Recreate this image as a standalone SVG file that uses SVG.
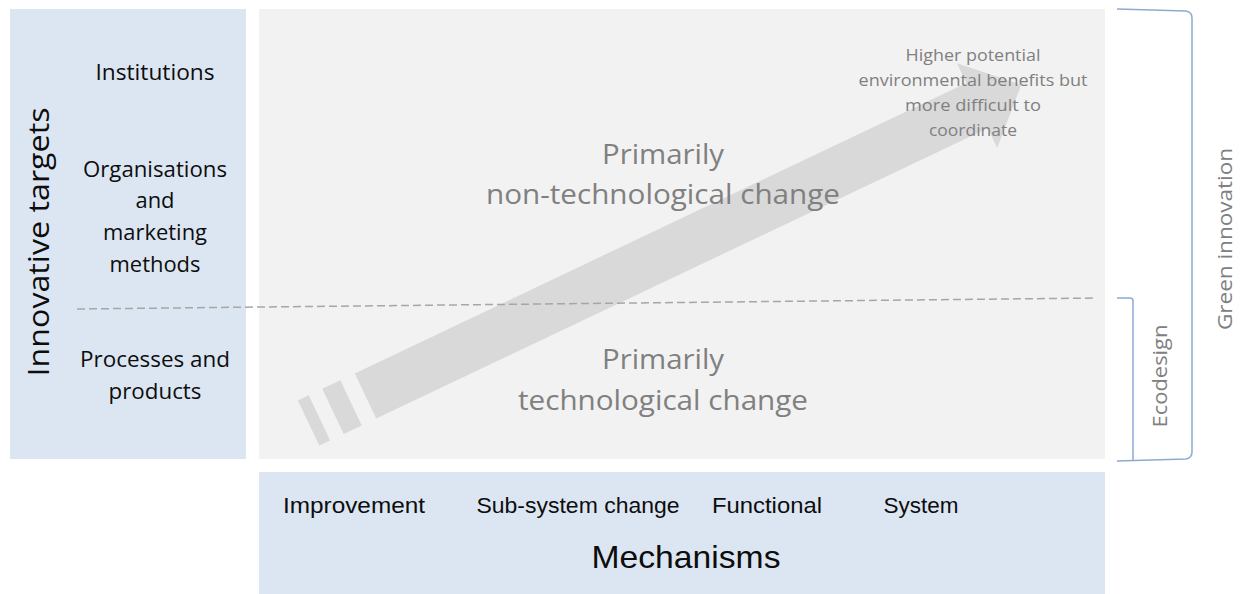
<svg xmlns="http://www.w3.org/2000/svg" width="1241" height="594" viewBox="0 0 1241 594">
  <style>
    .panel-blue { fill: #dce6f2; }
    .panel-grey { fill: #f2f2f2; }
    .dark { font-family: "Open Sans", "Liberation Sans", sans-serif; fill: #0d0d0d; text-anchor: middle; }
    .soft { font-family: "Open Sans", "Liberation Sans", sans-serif; fill: #808080; text-anchor: middle; }
    .narrow { font-family: "Liberation Sans", "Open Sans", sans-serif; fill: #0d0d0d; text-anchor: middle; }
    .brace { fill: none; stroke: #8eaad2; stroke-width: 1.5; }
    .arrow { fill: #d9d9d9; }
  </style>

  <!-- background panels -->
  <g id="targets-panel">
    <rect class="panel-blue" x="10" y="9" width="236" height="450"/>
    <text class="dark" font-size="30" transform="translate(49,242) rotate(-90)" textLength="269" lengthAdjust="spacingAndGlyphs">Innovative targets</text>
  </g>
  <g id="change-area">
    <rect class="panel-grey" x="259" y="9" width="846" height="450"/>
  </g>
  <g id="mechanisms-panel">
    <rect class="panel-blue" x="259" y="472" width="846" height="122"/>
    <text class="narrow" font-size="32" x="686" y="568" textLength="189" lengthAdjust="spacingAndGlyphs">Mechanisms</text>
  </g>

  <!-- wide progression arrow with broken tail -->
  <g id="progress-arrow" transform="translate(365.5,396) rotate(-25.4)">
    <polygon class="arrow" points="0,-25 677,-25 677,-47 726,0 677,47 677,25 0,25"/>
    <rect class="arrow" x="-36" y="-25" width="20" height="50"/>
    <rect class="arrow" x="-63" y="-25" width="12" height="50"/>
  </g>

  <!-- separator between technological and non-technological change -->
  <g id="connectors">
    <line x1="77" y1="309" x2="1097" y2="298" stroke="#a6a6a6" stroke-width="1.5" stroke-dasharray="8,4"/>
  </g>

  <!-- target rows -->
  <g id="institutions">
    <text class="dark" font-size="21" x="155" y="80" textLength="119" lengthAdjust="spacingAndGlyphs">Institutions</text>
  </g>
  <g id="organisations">
    <text class="dark" font-size="21" x="155" y="177" textLength="144" lengthAdjust="spacingAndGlyphs">Organisations</text>
    <text class="dark" font-size="21" x="155" y="208" textLength="39" lengthAdjust="spacingAndGlyphs">and</text>
    <text class="dark" font-size="21" x="155" y="240" textLength="104" lengthAdjust="spacingAndGlyphs">marketing</text>
    <text class="dark" font-size="21" x="155" y="272" textLength="91" lengthAdjust="spacingAndGlyphs">methods</text>
  </g>
  <g id="processes">
    <text class="dark" font-size="21" x="155" y="367" textLength="150" lengthAdjust="spacingAndGlyphs">Processes and</text>
    <text class="dark" font-size="21" x="155" y="399" textLength="93" lengthAdjust="spacingAndGlyphs">products</text>
  </g>

  <!-- change zones -->
  <g id="non-technological">
    <text class="soft" font-size="28" x="663" y="164" textLength="122" lengthAdjust="spacingAndGlyphs">Primarily</text>
    <text class="soft" font-size="28" x="663" y="204" textLength="354" lengthAdjust="spacingAndGlyphs">non-technological change</text>
  </g>
  <g id="technological">
    <text class="soft" font-size="28" x="663" y="369" textLength="122" lengthAdjust="spacingAndGlyphs">Primarily</text>
    <text class="soft" font-size="28" x="663" y="410" textLength="290" lengthAdjust="spacingAndGlyphs">technological change</text>
  </g>
  <g id="benefits-note">
    <text class="soft" font-size="16" x="973" y="61" textLength="135" lengthAdjust="spacingAndGlyphs">Higher potential</text>
    <text class="soft" font-size="16" x="973" y="86" textLength="229" lengthAdjust="spacingAndGlyphs">environmental benefits but</text>
    <text class="soft" font-size="16" x="973" y="111" textLength="136" lengthAdjust="spacingAndGlyphs">more difficult to</text>
    <text class="soft" font-size="16" x="973" y="136" textLength="88" lengthAdjust="spacingAndGlyphs">coordinate</text>
  </g>

  <!-- mechanism columns -->
  <g id="improvement">
    <text class="narrow" font-size="22" x="354" y="513" textLength="142" lengthAdjust="spacingAndGlyphs">Improvement</text>
  </g>
  <g id="sub-system">
    <text class="narrow" font-size="22" x="578" y="513" textLength="203" lengthAdjust="spacingAndGlyphs">Sub-system change</text>
  </g>
  <g id="functional">
    <text class="narrow" font-size="22" x="767" y="513" textLength="110" lengthAdjust="spacingAndGlyphs">Functional</text>
  </g>
  <g id="system">
    <text class="narrow" font-size="22" x="921" y="513" textLength="75" lengthAdjust="spacingAndGlyphs">System</text>
  </g>

  <!-- scope brackets -->
  <g id="green-innovation">
    <path class="brace" d="M1117,9 L1186,11 Q1192,12 1192,18 L1192,452 Q1192,458 1186,459 L1117,461"/>
    <text class="soft" fill="#7f7f7f" font-size="20" transform="translate(1232,239) rotate(-90)" textLength="182" lengthAdjust="spacingAndGlyphs">Green innovation</text>
  </g>
  <g id="ecodesign">
    <path class="brace" d="M1117,298 L1130,298 Q1133,298 1133,301 L1133,461"/>
    <text class="soft" fill="#7f7f7f" font-size="20" transform="translate(1167,376) rotate(-90)" textLength="103" lengthAdjust="spacingAndGlyphs">Ecodesign</text>
  </g>
</svg>
